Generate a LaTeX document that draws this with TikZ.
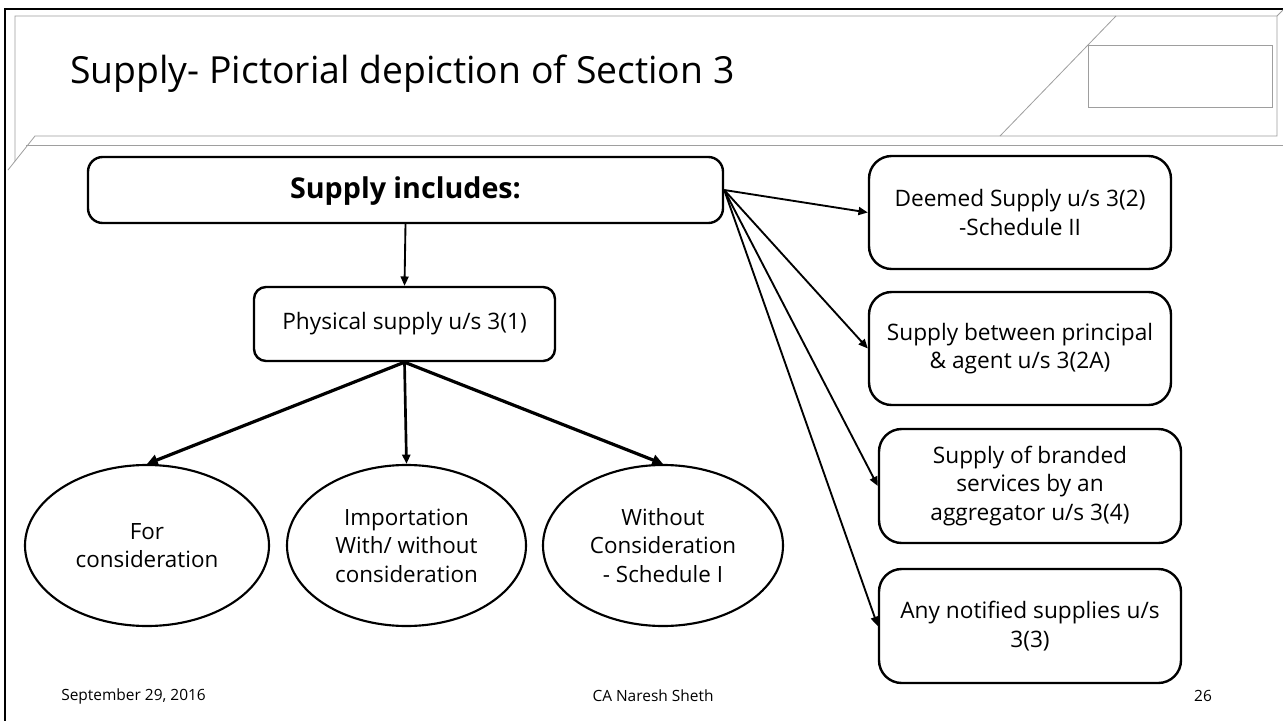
\documentclass[tikz,border=0pt]{standalone}
\usepackage{fontspec}
\setmainfont{Open Sans}
\usetikzlibrary{shapes.geometric,arrows.meta}
\begin{document}
\begin{tikzpicture}[x=0.75pt,y=-0.75pt,
  frameline/.style={line width=1.5pt,black},
  panel/.style={line width=0.6pt,color=black!38},
  rbox/.style={draw,line width=1.8pt,rounded corners=17pt,align=center,
    inner sep=0pt,font=\fontsize{17}{21.4}\selectfont},
  oval/.style={draw,ellipse,line width=1.6pt,inner sep=0pt,align=center,
    font=\fontsize{16.8}{21.4}\selectfont},
  link/.style={line width=1.4pt,-{Triangle[length=7pt,width=6pt]}},
  thick link/.style={line width=2.4pt,-{Triangle[length=8pt,width=8pt]}},
  foot/.style={font=\fontsize{11.6}{13}\selectfont,inner sep=0pt}]
\useasboundingbox (0,0) rectangle (1283,721);
\fill[white] (0,0) rectangle (1283,721);
% slide frame
\draw[frameline] (5,721) -- (5,9) -- (1283,9);
\draw[panel] (15,161) -- (15,16) -- (1277,16) -- (1283,10);
\draw[panel] (1277,16) -- (1277,136) -- (35,136) -- (8,170);
\draw[panel] (26,145) -- (1283,145);
\draw[panel] (1116,16) -- (1000,136);
\draw[panel] (1088,45) rectangle (1272,107);
% title
\node[anchor=west,inner sep=0pt,font=\fontsize{28}{32}\selectfont] (title) at (70,74)
  {Supply- Pictorial depiction of Section 3};
% main boxes
\node[rbox,rounded corners=11pt,minimum width=476.25pt,minimum height=49.5pt,
  font=\fontsize{21.5}{25}\selectfont\bfseries] (inc) at (405.5,190)
  {\raisebox{-6.5pt}[0pt][0pt]{Supply includes:}};
\node[rbox,rounded corners=9pt,minimum width=225.75pt,minimum height=55.5pt] (phys)
  at (404.5,324) {Physical supply u/s 3(1)};
\node[oval,minimum width=183pt,minimum height=120.75pt] (e1) at (147,545.5)
  {For\\consideration};
\node[oval,minimum width=179.25pt,minimum height=120.75pt] (e2) at (406.5,545.5)
  {Importation\\With/ without\\consideration};
\node[oval,minimum width=180pt,minimum height=120.75pt] (e3) at (663,545.5)
  {Without\\Consideration\\- Schedule I};
% right-hand boxes
\node[rbox,minimum width=226.5pt,minimum height=84.75pt] (d1) at (1020,212.5)
  {Deemed Supply u/s 3(2)\\-Schedule II};
\node[rbox,minimum width=226.5pt,minimum height=84.75pt] (d2) at (1020,348.5)
  {Supply between principal\\\& agent u/s 3(2A)};
\node[rbox,minimum width=226.5pt,minimum height=85.5pt] (d3) at (1030,486)
  {Supply of branded\\services by an\\aggregator u/s 3(4)};
\node[rbox,minimum width=226.5pt,minimum height=85.5pt] (d4) at (1030,626)
  {Any notified supplies u/s\\3(3)};
% connectors
\draw[link] (inc.south) -- (phys.north);
\foreach \t in {d1,d2,d3,d4} \draw[link] (inc.east) -- (\t.west);
\draw[thick link] (phys.south) -- (e1.north);
\draw[link,line width=2pt] (phys.south) -- (e2.north);
\draw[thick link] (phys.south) -- (e3.north);
% footer
\node[foot,anchor=west] (date) at (61,696) {September 29, 2016};
\node[foot] (author) at (653,696) {CA Naresh Sheth};
\node[foot] (page) at (1203,696) {26};
\end{tikzpicture}
\end{document}
